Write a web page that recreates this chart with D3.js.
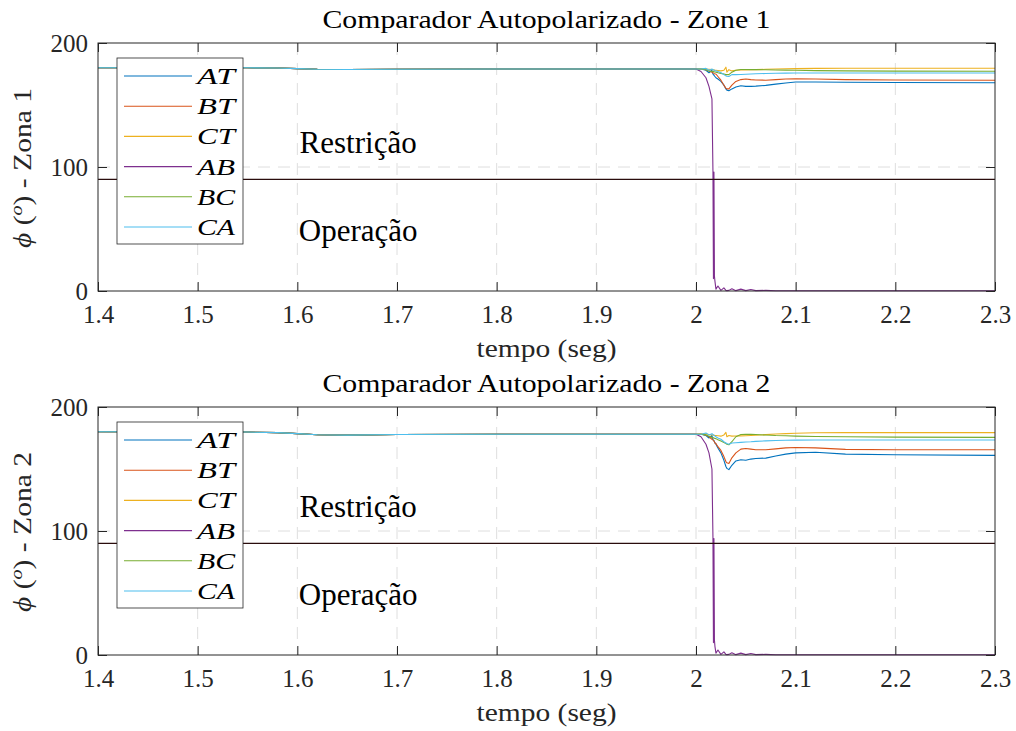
<!DOCTYPE html>
<html>
<head>
<meta charset="utf-8">
<script src="https://cdn.jsdelivr.net/npm/d3@7"></script>
<style>
  html, body { margin: 0; padding: 0; background: #ffffff; }
  svg { display: block; }
  svg text { font-family: "Liberation Serif", "DejaVu Serif", "Times New Roman", serif; }
</style>
</head>
<body>
<div id="chart"></div>
<script>
// ---------------- DATA ----------------
const tempo = [1.40, 1.55, 1.58, 1.60, 1.62, 1.65, 1.70, 1.80, 1.90, 2.000,
  2.005, 2.010, 2.013, 2.016, 2.017, 2.0175, 2.018, 2.0185, 2.019, 2.020,
  2.022, 2.025, 2.028, 2.030, 2.031, 2.033, 2.036, 2.040, 2.045, 2.050,
  2.055, 2.060, 2.070, 2.080, 2.090, 2.100, 2.120, 2.150, 2.200, 2.300];

const pre1 = [180, 180, 179.8, 179.3, 178.8, 178.6, 178.8, 179, 179, 179];
const pre2 = [180, 179.8, 179.3, 178.5, 177.6, 177.3, 177.8, 178, 178, 178];

// Zona 1 (after 2.000 s)
const AT1 = [179, 178, 176, 178, 175, 174.5, 174, 173.5, 173, 172,
  171, 169, 166, 163, 162, 161.5, 163, 164.5, 165.5, 165,
  165, 165.2, 165.8, 166.8, 167.8, 168.5, 168.5, 168.3, 168.2, 168];
const BT1 = [179, 178.5, 177.5, 176.5, 176, 175.8, 175.5, 175.3, 175, 175,
  173, 170, 166, 163.5, 163, 163, 166, 169, 170.5, 171,
  170.5, 170.2, 170, 170.5, 171, 171.2, 171, 170.5, 170.2, 170];
const CT1 = [179.2, 179, 178.8, 178.5, 178.4, 178.3, 178.2, 178.1, 178, 178,
  177.8, 177.5, 178, 180.5, 176.5, 178.5, 177.5, 178, 178.2, 178.3,
  178.4, 178.5, 178.8, 179, 179.2, 179.3, 179.5, 179.6, 179.6, 179.6];
const AB1 = [177, 172, 165, 155, 97, 10, 96, 12, 8, 1.5,
  4, 0.5, 2.5, 0.5, 0.3, 0.5, 1.8, 0.3, 1.5, 0.3,
  1.2, 0.3, 0.5, 0.2, 0.2, 0.2, 0.2, 0.2, 0.2, 0.2];
const BC1 = [179, 178.5, 177.5, 177, 177, 176.9, 176.8, 176.7, 176.6, 176.5,
  176, 175.5, 175, 174.5, 174.5, 174.5, 176.5, 178, 178.6, 178.6,
  178.5, 178.5, 178.4, 178.2, 178.1, 178, 177.7, 177.5, 177.3, 177.2];
const CA1 = [179, 179.5, 178, 179, 178.5, 178.3, 178.2, 178, 177.8, 177.5,
  177, 176, 174.5, 173.5, 173.2, 173, 174.5, 174.5, 174.6, 174.8,
  175, 175.2, 175.4, 175.6, 175.7, 175.8, 175.8, 175.8, 175.8, 175.8];

// Zona 2 (after 2.000 s)
const AT2 = [178, 177, 175, 177, 174, 173, 173, 172, 171, 170,
  167, 163, 157, 152, 150.5, 149.5, 153, 156.5, 157.5, 157,
  158, 158.5, 158.8, 160.5, 162, 163, 163.5, 162, 161.5, 161];
const BT2 = [178, 177.5, 176, 174, 173.5, 173, 172.5, 172, 171, 170.5,
  168, 165, 160, 156, 155, 154.5, 159, 163, 166, 166.5,
  166, 165.5, 165.5, 166.2, 167, 167.3, 167, 165.8, 165.5, 165.5];
const CT2 = [178.3, 178.2, 177.8, 177.5, 177.4, 177.3, 177.2, 177.1, 177, 177,
  176.8, 176.5, 177.5, 179.5, 176, 177, 176.5, 176.6, 176.7, 176.8,
  177, 177.2, 177.7, 178.2, 178.5, 178.8, 179.2, 179.3, 179.3, 179.3];
const AB2 = [176, 170, 163, 150, 95, 10, 94, 12, 7, 1.5,
  4, 0.5, 2.5, 0.5, 0.3, 0.5, 1.8, 0.3, 1.5, 0.3,
  1.2, 0.3, 0.5, 0.2, 0.2, 0.2, 0.2, 0.2, 0.2, 0.2];
const BC2 = [178, 177.5, 176.5, 175.5, 175.3, 175.2, 175, 174.8, 174.6, 174.5,
  173.5, 172.5, 171.3, 170.5, 170, 169.5, 172, 176, 177.8, 178,
  177.9, 177.8, 177.4, 177, 176.8, 176.5, 176.2, 176, 175.7, 175.5];
const CA2 = [178, 179, 177.5, 178.5, 177.8, 177.5, 177.2, 177, 176.5, 176,
  175, 174, 172, 171, 170.5, 170, 171, 171.2, 171.5, 171.8,
  172, 172.3, 172.7, 173, 173.2, 173.3, 173.4, 173.4, 173.4, 173.4];

const seriesNames = ["AT", "BT", "CT", "AB", "BC", "CA"];
const seriesColors = ["#0072BD", "#D95319", "#EDB120", "#7E2F8E", "#77AC30", "#4DBEEE"];
const xTicks = [1.4, 1.5, 1.6, 1.7, 1.8, 1.9, 2.0, 2.1, 2.2, 2.3];
const yTicks = [0, 100, 200];
const limiar = 90;
const titles = ["Comparador Autopolarizado - Zone 1", "Comparador Autopolarizado - Zona 2"];
const yLabels = ["Zona 1", "Zona 2"];
const xLabel = "tempo (seg)";
const regionLabels = ["Restrição", "Operação"];

const zones = [
  { pre: pre1, post: [AT1, BT1, CT1, AB1, BC1, CA1] },
  { pre: pre2, post: [AT2, BT2, CT2, AB2, BC2, CA2] }
];

// ---------------- DRAW ----------------
const W = 1016, H = 731;
const svg = d3.select("#chart").append("svg").attr("width", W).attr("height", H);
const axisColor = "#262626";

const left = 98, right = 995, plotH = 248;
const tops = [43, 407];

zones.forEach((zone, zi) => {
  const top = tops[zi];
  const x = d3.scaleLinear().domain([1.4, 2.3]).range([left, right]);
  const y = d3.scaleLinear().domain([0, 200]).range([top + plotH, top]);
  const g = svg.append("g");

  // grid
  g.selectAll(".gx").data(xTicks.slice(1, -1)).join("line")
    .attr("x1", d => x(d)).attr("x2", d => x(d))
    .attr("y1", top).attr("y2", top + plotH)
    .attr("stroke", "#dedede").attr("stroke-width", 1).attr("stroke-dasharray", "12,8");
  g.selectAll(".gy").data([100]).join("line")
    .attr("x1", left).attr("x2", right)
    .attr("y1", d => y(d)).attr("y2", d => y(d))
    .attr("stroke", "#dedede").attr("stroke-width", 1).attr("stroke-dasharray", "12,8");

  // clip
  const clipId = "clip" + zi;
  svg.append("clipPath").attr("id", clipId).append("rect")
    .attr("x", left).attr("y", top - 1).attr("width", right - left).attr("height", plotH + 2);

  const line = d3.line().x(d => x(d[0])).y(d => y(d[1]));
  const dataG = g.append("g").attr("clip-path", `url(#${clipId})`);

  zone.post.forEach((arr, si) => {
    const vals = zone.pre.concat(arr);
    const pts = tempo.map((t, i) => [t, vals[i]]);
    dataG.append("path").datum(pts)
      .attr("d", line).attr("fill", "none")
      .attr("stroke", seriesColors[si]).attr("stroke-width", 1.1)
      .attr("stroke-linejoin", "round");
  });

  // threshold line
  dataG.append("line")
    .attr("x1", left).attr("x2", right)
    .attr("y1", y(limiar)).attr("y2", y(limiar))
    .attr("stroke", "#2a0c0c").attr("stroke-width", 1.4);

  // region labels
  g.append("text").attr("x", x(1.661)).attr("y", top + 110)
    .attr("text-anchor", "middle").attr("font-size", 31)
    .attr("fill", "#000").text(regionLabels[0]);
  g.append("text").attr("x", x(1.661)).attr("y", top + 198)
    .attr("text-anchor", "middle").attr("font-size", 31)
    .attr("fill", "#000").text(regionLabels[1]);

  // axes (MATLAB-like: inward ticks on all sides)
  const tickLen = 9;
  const xAxisB = d3.axisBottom(x).tickValues(xTicks).tickSize(-tickLen).tickPadding(14)
    .tickFormat(d => d3.format("")(+d.toFixed(1)));
  const ax = g.append("g").attr("transform", `translate(0,${top + plotH})`).call(xAxisB);
  const xAxisT = d3.axisTop(x).tickValues(xTicks).tickSize(-tickLen).tickFormat("");
  const axT = g.append("g").attr("transform", `translate(0,${top})`).call(xAxisT);
  const yAxisL = d3.axisLeft(y).tickValues(yTicks).tickSize(-tickLen).tickPadding(10);
  const ay = g.append("g").attr("transform", `translate(${left},0)`).call(yAxisL);
  const yAxisR = d3.axisRight(y).tickValues(yTicks).tickSize(-tickLen).tickFormat("");
  const ayR = g.append("g").attr("transform", `translate(${right},0)`).call(yAxisR);

  [ax, axT, ay, ayR].forEach(a => {
    a.attr("font-family", null);
    a.select(".domain").remove();
    a.selectAll(".tick line").attr("stroke", axisColor).attr("stroke-width", 1);
    a.selectAll("text").attr("font-size", 25).attr("fill", "#262626");
  });
  ax.selectAll("text").attr("dy", "0.71em");

  // box
  g.append("rect").attr("x", left).attr("y", top).attr("width", right - left).attr("height", plotH)
    .attr("fill", "none").attr("stroke", axisColor).attr("stroke-width", 1);

  // title
  g.append("text").attr("x", (left + right) / 2).attr("y", top - 15)
    .attr("text-anchor", "middle").attr("font-size", 25)
    .attr("textLength", 448).attr("lengthAdjust", "spacingAndGlyphs")
    .attr("fill", "#000").text(titles[zi]);

  // x label
  g.append("text").attr("x", (left + right) / 2).attr("y", top + plotH + 66)
    .attr("text-anchor", "middle").attr("font-size", 25)
    .attr("textLength", 140).attr("lengthAdjust", "spacingAndGlyphs")
    .attr("fill", "#262626").text(xLabel);

  // y label
  const yl = g.append("text")
    .attr("transform", `translate(31,${top + 125}) rotate(-90)`)
    .attr("text-anchor", "middle").attr("font-size", 25)
    .attr("textLength", 160).attr("lengthAdjust", "spacingAndGlyphs")
    .attr("fill", "#262626");
  yl.append("tspan").attr("font-style", "italic").text("ϕ");
  yl.append("tspan").text(" (");
  yl.append("tspan").attr("font-style", "italic").attr("font-size", 17).attr("dy", -9).text("o");
  yl.append("tspan").attr("dy", 9).text(") - " + yLabels[zi]);

  // legend
  const lg = g.append("g");
  lg.append("rect").attr("x", 117).attr("y", top + 15).attr("width", 126).attr("height", 186)
    .attr("fill", "#fff").attr("stroke", axisColor).attr("stroke-width", 0.8);
  seriesNames.forEach((name, i) => {
    const yy = top + 33 + i * 30.2;
    lg.append("line").attr("x1", 124).attr("x2", 192).attr("y1", yy).attr("y2", yy)
      .attr("stroke", seriesColors[i]).attr("stroke-width", 1.1);
    lg.append("text").attr("x", 197).attr("y", yy + 8)
      .attr("font-style", "italic").attr("font-size", 24)
      .attr("textLength", 38).attr("lengthAdjust", "spacingAndGlyphs")
      .attr("fill", "#000").text(name);
  });
});
</script>
</body>
</html>
